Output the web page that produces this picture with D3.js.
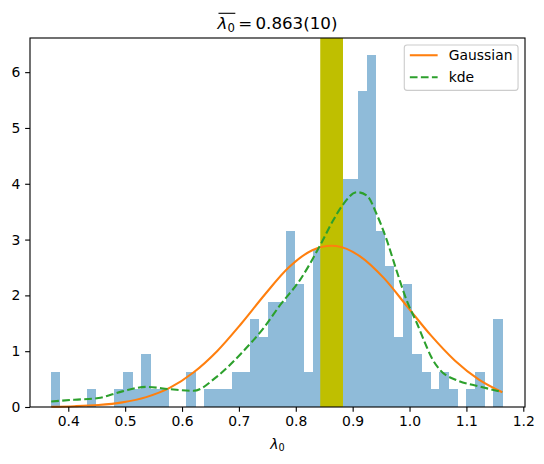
<!DOCTYPE html>
<html>
<head>
<meta charset="utf-8">
<script src="https://cdn.jsdelivr.net/npm/d3@7"></script>
<style>
	body { margin: 0; background: #fff; }
	text { font-family: "DejaVu Sans", sans-serif; fill: #000; }
</style>
</head>
<body>
<div id="chart"></div>
<script>

// histogram: 50 bins between these two edges, counts
var histMin = 0.3696;
var histMax = 1.1634;
var binCounts = [2, 0, 0, 0, 1, 0, 0, 1, 2, 1,
	3, 1, 1, 0, 0, 2, 0, 1, 1, 1,
	2, 2, 5, 4, 6, 6, 10, 7, 2, 9,
	10, 10, 13, 13, 18, 20, 10, 8, 4, 7,
	3, 2, 1, 2, 1, 0, 1, 2, 0, 5];

// gaussian curve, read at these x
var gaussX = [0.370, 0.411, 0.453, 0.495, 0.537, 0.579, 0.620, 0.662, 0.704, 0.746,
	0.787, 0.829, 0.863, 0.871, 0.913, 0.955, 0.996, 1.038, 1.080, 1.122, 1.163];
var gaussY = [0.005, 0.014, 0.035, 0.083, 0.177, 0.346, 0.618, 1.005, 1.492, 2.020,
	2.494, 2.809, 2.890, 2.884, 2.701, 2.309, 1.799, 1.278, 0.829, 0.490, 0.264];

// kde curve
var kdeX = [0.370, 0.411, 0.453, 0.495, 0.537, 0.579, 0.620, 0.662, 0.704, 0.746,
	0.772, 0.807, 0.843, 0.866, 0.884, 0.907, 0.925, 0.942, 0.960, 0.977,
	0.995, 1.013, 1.030, 1.038, 1.054, 1.083, 1.122, 1.163];
var kdeY = [0.10, 0.13, 0.16, 0.28, 0.36, 0.32, 0.29, 0.55, 0.96, 1.45,
	1.82, 2.27, 2.90, 3.35, 3.64, 3.85, 3.79, 3.46, 2.99, 2.45,
	1.91, 1.50, 1.08, 0.90, 0.66, 0.48, 0.37, 0.27];

// mean and its error, band is mean +/- 2 err
var meanValue = 0.863;
var meanErr = 0.010;
var bandRange = [meanValue - 2 * meanErr, meanValue + 2 * meanErr];

var xTicks = [0.4, 0.5, 0.6, 0.7, 0.8, 0.9, 1.0, 1.1, 1.2];
var yTicks = [0, 1, 2, 3, 4, 5, 6];
var legendLabels = ["Gaussian", "kde"];

var width = 544, height = 464;
var plotLeft = 30, plotRight = 525, plotTop = 38, plotBottom = 407;
var fontSize = 13.9;

var nSamples = d3.sum(binCounts);
var binWidth = (histMax - histMin) / binCounts.length;
var bins = binCounts.map((c, i) => ({
	x0: histMin + i * binWidth,
	x1: histMin + (i + 1) * binWidth,
	density: c / (nSamples * binWidth)
}));

var xScale = d3.scaleLinear()
	.domain([0.3327, 1.2030])
	.range([plotLeft, plotRight]);

var yScale = d3.scaleLinear()
	.domain([0, 6.612])
	.range([plotBottom, plotTop]);

var svg = d3.select("#chart")
	.append("svg")
	.attr("width", width)
	.attr("height", height)

// bars
svg.append("g")
	.selectAll("rect")
	.data(bins.filter(d => d.density > 0))
	.enter()
	.append("rect")
	.attr("x", d => xScale(d.x0))
	.attr("width", d => xScale(d.x1) - xScale(d.x0) + 0.3)
	.attr("y", d => yScale(d.density))
	.attr("height", d => yScale(0) - yScale(d.density))
	.attr("fill", "#8fbbd9")
	.attr("shape-rendering", "crispEdges")

// band for the mean
svg.append("rect")
	.attr("x", xScale(bandRange[0]))
	.attr("width", xScale(bandRange[1]) - xScale(bandRange[0]))
	.attr("y", plotTop)
	.attr("height", plotBottom - plotTop)
	.attr("fill", "#bfbf00")

var line = d3.line()
	.x(d => xScale(d[0]))
	.y(d => yScale(d[1]))
	.curve(d3.curveMonotoneX);

svg.append("path")
	.datum(d3.zip(gaussX, gaussY))
	.attr("d", line)
	.attr("fill", "none")
	.attr("stroke", "#ff7f0e")
	.attr("stroke-width", 2.08)

svg.append("path")
	.datum(d3.zip(kdeX, kdeY))
	.attr("d", line)
	.attr("fill", "none")
	.attr("stroke", "#2ca02c")
	.attr("stroke-width", 2.08)
	.attr("stroke-dasharray", "7.7,3.33")

// axes
svg.append("g")
	.attr("transform", "translate(0," + plotBottom + ")")
	.call(
		d3.axisBottom(xScale)
			.tickValues(xTicks)
			.tickFormat(d3.format(".1f"))
			.tickSize(4.86)
			.tickSizeOuter(0)
			.tickPadding(4.4)
	)

svg.append("g")
	.attr("transform", "translate(" + plotLeft + ",0)")
	.call(
		d3.axisLeft(yScale)
			.tickValues(yTicks)
			.tickFormat(d3.format("d"))
			.tickSize(4.86)
			.tickSizeOuter(0)
			.tickPadding(4.86)
	)

svg.selectAll(".domain").remove()
svg.selectAll(".tick line").attr("stroke", "#000").attr("stroke-width", 1.11)
svg.selectAll(".tick text")
	.attr("font-family", "DejaVu Sans")
	.attr("font-size", fontSize)
	.attr("fill", "#000")

// spines
svg.append("rect")
	.attr("x", plotLeft)
	.attr("y", plotTop)
	.attr("width", plotRight - plotLeft)
	.attr("height", plotBottom - plotTop)
	.attr("fill", "none")
	.attr("stroke", "#000")
	.attr("stroke-width", 1.11)

// x label
var xLabel = svg.append("text")
	.attr("x", (plotLeft + plotRight) / 2)
	.attr("y", 448.5)
	.attr("text-anchor", "middle")
	.attr("font-size", fontSize)
xLabel.append("tspan").attr("font-style", "italic").text("λ")
xLabel.append("tspan").attr("font-size", fontSize * 0.7).attr("dy", 2.4).text("0")

// title with overline over lambda_0
var title = svg.append("text")
	.attr("x", (plotLeft + plotRight) / 2)
	.attr("y", 29.3)
	.attr("text-anchor", "middle")
	.attr("font-size", 16.7)
title.append("tspan").attr("font-style", "italic").text("λ")
title.append("tspan").attr("font-size", 16.7 * 0.7).attr("dy", 3).text("0")
title.append("tspan").attr("dy", -3).text("\u2009=\u20090.863(10)")

var tnode = title.node();
var barStart = tnode.getStartPositionOfChar(0).x;
var barEnd = tnode.getEndPositionOfChar(1).x;
svg.append("line")
	.attr("x1", barStart + 1)
	.attr("x2", barEnd + 0.5)
	.attr("y1", 13.3)
	.attr("y2", 13.3)
	.attr("stroke", "#000")
	.attr("stroke-width", 1.1)

// legend
var pad = fontSize * 0.4, handleLen = fontSize * 2, textPad = fontSize * 0.8, rowH = 22;
var boxTop = plotTop + fontSize * 0.5;
var legend = svg.append("g");
var legendFrame = legend.append("rect");
var labelWidths = [];
var legendColors = ["#ff7f0e", "#2ca02c"];
var legendDash = [null, "7.7,3.33"];

legendLabels.forEach(function(lab, i) {
	var t = legend.append("text")
		.attr("font-size", fontSize)
		.attr("y", boxTop + 15.3 + i * rowH)
		.text(lab)
	labelWidths.push(t.node().getComputedTextLength());
});
var boxRight = plotRight - fontSize * 0.5;
var boxWidth = pad + handleLen + textPad + d3.max(labelWidths) + pad;
var boxLeft = boxRight - boxWidth;

legendFrame
	.attr("x", boxLeft)
	.attr("y", boxTop)
	.attr("width", boxWidth)
	.attr("height", 45.4)
	.attr("rx", 2.8)
	.attr("fill", "#fff")
	.attr("fill-opacity", 0.8)
	.attr("stroke", "#cccccc")
	.attr("stroke-width", 1.11)

legend.selectAll("text").attr("x", boxLeft + pad + handleLen + textPad)

legendLabels.forEach(function(lab, i) {
	var ly = boxTop + 10.3 + i * rowH;
	legend.append("line")
		.attr("x1", boxLeft + pad)
		.attr("x2", boxLeft + pad + handleLen)
		.attr("y1", ly)
		.attr("y2", ly)
		.attr("stroke", legendColors[i])
		.attr("stroke-width", 2.08)
		.attr("stroke-dasharray", legendDash[i])
});

</script>
</body>
</html>
